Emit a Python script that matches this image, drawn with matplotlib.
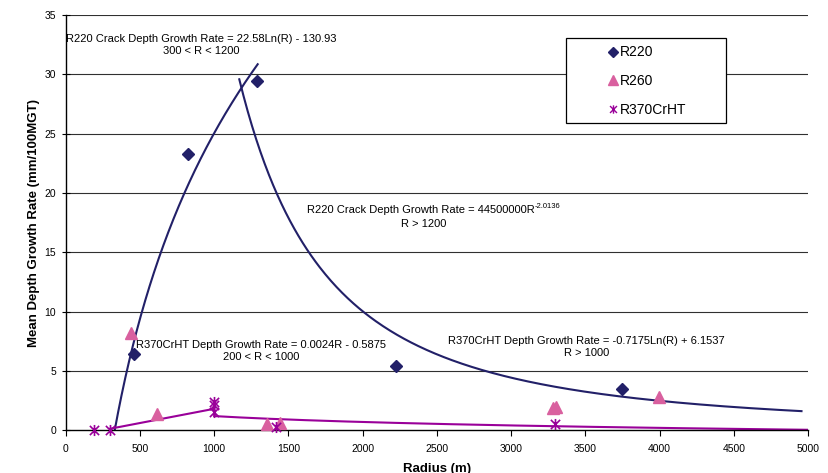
import numpy as np
import matplotlib
matplotlib.use("Agg")
import matplotlib.pyplot as plt
from matplotlib.path import Path
from matplotlib.patches import Rectangle
from matplotlib.lines import Line2D

plt.rcParams['font.family'] = ['Liberation Sans', 'DejaVu Sans']

# Datos
r220_x = [458, 821, 1290, 2222, 3750]
r220_y = [6.4, 23.3, 29.4, 5.45, 3.48]

r260_x = [442, 613, 1355, 1440, 3285, 3300, 3997]
r260_y = [8.2, 1.35, 0.5, 0.6, 1.9, 1.95, 2.8]

r370_x = [190, 298, 1000, 1000, 1000, 1416, 3295]
r370_y = [0.0, 0.0, 2.35, 2.1, 1.55, 0.3, 0.55]

# Rangos de las curvas de ajuste
rango_log220 = (330, 1293)
rango_pot220 = (1169, 4956)
rango_lin370 = (300, 1000)
rango_log370 = (1000, 5000)

azul = '#222068'
rosa = '#D9609F'
morado = '#990099'

# marcador tipo asterisco (X con linea vertical)
asterisco = Path([(-1, -1), (1, 1), (-1, 1), (1, -1), (0, -1.2), (0, 1.2)],
                 [Path.MOVETO, Path.LINETO, Path.MOVETO, Path.LINETO, Path.MOVETO, Path.LINETO])

fig = plt.figure(figsize=(8.29, 4.73), dpi=100)
ax = fig.add_axes([0.0793, 0.0903, 0.8954, 0.878])

for y in range(5, 40, 5):
    ax.axhline(y, color='#303030', lw=0.8, zorder=1)

# Curvas de ajuste
x = np.linspace(*rango_log220, 300)
ax.plot(x, 22.58 * np.log(x) - 130.93, color=azul, lw=1.5, zorder=2)
x = np.linspace(*rango_pot220, 400)
ax.plot(x, 44500000 * x ** -2.0136, color=azul, lw=1.5, zorder=2)
x = np.linspace(*rango_lin370, 50)
ax.plot(x, 0.0024 * x - 0.5875, color=morado, lw=1.5, zorder=2)
x = np.linspace(*rango_log370, 300)
ax.plot(x, -0.7175 * np.log(x) + 6.1537, color=morado, lw=1.5, zorder=2)

# Puntos
ax.plot(r220_x, r220_y, 'D', color=azul, ms=6, ls='none', zorder=3, clip_on=False)
ax.plot(r260_x, r260_y, '^', color=rosa, ms=8, ls='none', zorder=3, clip_on=False)
ax.plot(r370_x, r370_y, marker=asterisco, color=morado, mec=morado, ms=8, mew=1.2,
        ls='none', zorder=4, clip_on=False)

# Textos de las ecuaciones
fs = 8
ax.text(916, 32.5, 'R220 Crack Depth Growth Rate = 22.58Ln(R) - 130.93\n300 < R < 1200',
        ha='center', va='center', fontsize=fs, linespacing=1.25)
t = ax.text(2390, 18.55, 'R220 Crack Depth Growth Rate = 44500000R',
            ha='center', va='center', fontsize=fs)
ax.annotate('-2.0136', xy=(1, 1), xycoords=t, xytext=(0.3, -3.5), textcoords='offset points',
            fontsize=5.5, ha='left', va='bottom')
ax.text(2413, 17.42, 'R > 1200', ha='center', va='center', fontsize=fs)
ax.text(1315, 6.69, 'R370CrHT Depth Growth Rate = 0.0024R - 0.5875\n200 < R < 1000',
        ha='center', va='center', fontsize=fs, linespacing=1.25)
ax.text(3508, 7.02, 'R370CrHT Depth Growth Rate = -0.7175Ln(R) + 6.1537\nR > 1000',
        ha='center', va='center', fontsize=fs, linespacing=1.25)

ax.set_xlim(0, 5000)
ax.set_ylim(0, 35)
ax.set_xticks(range(0, 5001, 500))
ax.set_yticks(range(0, 36, 5))
ax.tick_params(axis='x', direction='out', length=4, width=0.8, labelsize=7.5, pad=6)
ax.tick_params(axis='y', direction='inout', length=6, width=0.8, labelsize=7.5, pad=4)
for lado in ['top', 'right']:
    ax.spines[lado].set_visible(False)
ax.spines['left'].set_linewidth(1.0)
ax.spines['bottom'].set_linewidth(1.0)

ax.set_xlabel('Radius (m)', fontsize=9.5, fontweight='bold', labelpad=6)
ax.set_ylabel('Mean Depth Growth Rate (mm/100MGT)', fontsize=9.5, fontweight='bold', labelpad=3)

# Leyenda con caja
caja = Rectangle((0.674, 0.739), 0.215, 0.206, transform=ax.transAxes,
                 facecolor='white', edgecolor='black', lw=0.9, zorder=5)
ax.add_patch(caja)
manijas = [Line2D([], [], marker='D', color=azul, ls='none', ms=5),
           Line2D([], [], marker='^', color=rosa, ls='none', ms=7),
           Line2D([], [], marker=asterisco, color=morado, ls='none', ms=6, mew=1.0)]
leg = ax.legend(manijas, ['R220', 'R260', 'R370CrHT'], loc='upper left',
                bbox_to_anchor=(0.713, 0.96), frameon=False, fontsize=10,
                handlelength=0.6, handletextpad=0.2, labelspacing=1.05, borderpad=0.5)
leg.set_zorder(6)

fig.savefig('out.png', dpi=100)
